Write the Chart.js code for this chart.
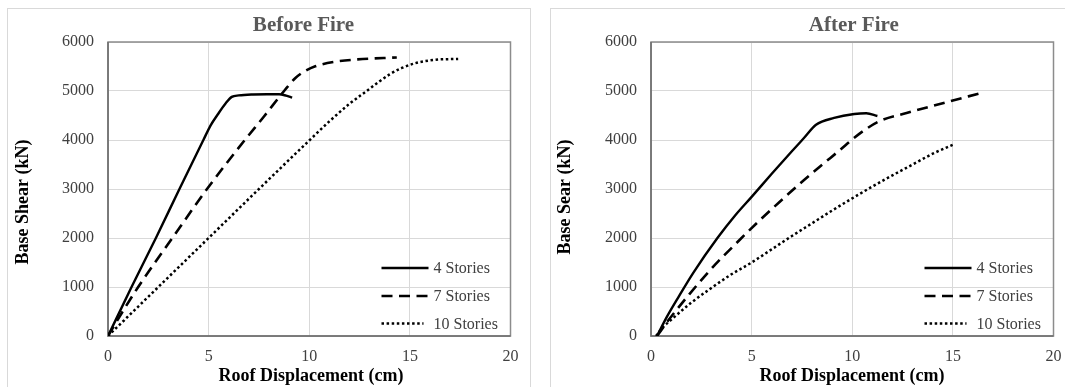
<!DOCTYPE html>
<html>
<head>
<meta charset="utf-8">
<script src="https://cdn.jsdelivr.net/npm/chart.js@4.4.1/dist/chart.umd.min.js"></script>
<style>
  html, body { margin: 0; padding: 0; background: #fff; width: 1065px; height: 387px; overflow: hidden; }
  .box { position: absolute; box-sizing: border-box; border: 1px solid #d9d9d9; background: #fff; }
  #boxL { left: 7px; top: 8px; width: 524px; height: 400px; }
  #boxR { left: 550px; top: 8px; width: 530px; height: 400px; }
  canvas { display: block; }
</style>
</head>
<body>
<div class="box" id="boxL"><canvas id="cL" width="522" height="398" style="width:522px;height:398px"></canvas></div>
<div class="box" id="boxR"><canvas id="cR" width="514" height="398" style="width:514px;height:398px"></canvas></div>
<script>
// ---------- tick labels ----------
const xTicks = [0, 5, 10, 15, 20];
const yTicks = [0, 1000, 2000, 3000, 4000, 5000, 6000];

// ---------- series names ----------
const seriesNames = ['4 Stories', '7 Stories', '10 Stories'];

// ---------- Before Fire ----------
const before4X = [0, 1.17, 2.38, 3.55, 4.74, 5.1, 5.45, 5.85, 6.15, 6.5, 7.2, 7.9, 8.5, 8.85, 9.15];
const before4Y = [0, 1000, 2000, 3000, 4000, 4300, 4520, 4750, 4880, 4910, 4930, 4935, 4935, 4905, 4865];
const before7X = [0, 0.7, 1.5, 3.2, 4.92, 6.8, 7.75, 8.75, 9.3, 9.8, 10.3, 11.3, 12.4, 14.35];
const before7Y = [0, 480, 1000, 2000, 3000, 4000, 4480, 5000, 5260, 5410, 5505, 5598, 5645, 5685];
const before10X = [0, 2.5, 5, 7.5, 10, 11, 12, 12.85, 13.5, 14, 14.6, 15.25, 16.2, 17.4];
const before10Y = [0, 1000, 2000, 3000, 3990, 4380, 4740, 5000, 5200, 5340, 5470, 5565, 5635, 5655];

// ---------- After Fire ----------
const after4X = [0.3, 0.8, 1.4, 2.1, 3.3, 4.2, 5.0, 6.0, 7.0, 7.6, 8.2, 9.1, 10.1, 10.7, 11.25];
const after4Y = [0, 400, 820, 1290, 2000, 2470, 2840, 3310, 3770, 4040, 4310, 4450, 4530, 4545, 4490];
const after7X = [0.3, 0.9, 1.9, 3.06, 4.4, 5.4, 6.4, 7.4, 8.4, 9.4, 10.0, 10.5, 11.3, 12.7, 14.4, 16.45];
const after7Y = [0, 340, 850, 1400, 1960, 2360, 2740, 3110, 3460, 3800, 4010, 4170, 4375, 4550, 4740, 4965];
const after10X = [0.25, 0.6, 1, 2, 3, 4, 5, 6, 7, 8, 9, 10, 11, 12, 13, 14, 15.1];
const after10Y = [0, 180, 330, 680, 980, 1260, 1500, 1770, 2040, 2300, 2560, 2810, 3050, 3280, 3500, 3720, 3920];

// ---------- styling ----------
const SERIF = "'Liberation Serif', 'Times New Roman', serif";
const lineStyles = [
  { dash: [], width: 2.4 },
  { dash: [11, 6.5], width: 2.6 },
  { dash: [2.5, 2.6], width: 2.5 }
];

function pts(xs, ys) { return xs.map((x, i) => ({ x: x, y: ys[i] })); }

function decorPlugin(cfg) {
  return {
    id: 'decor',
    beforeDatasetsDraw(chart) {
      const { ctx, chartArea: a } = chart;
      ctx.save();
      ctx.strokeStyle = '#8c8c8c';
      ctx.lineWidth = 1.5;
      ctx.strokeRect(a.left, a.top, a.right - a.left, a.bottom - a.top);
      ctx.strokeStyle = '#6e6e6e';
      ctx.beginPath();
      ctx.moveTo(a.left, a.top);
      ctx.lineTo(a.left, a.bottom);
      ctx.lineTo(a.right, a.bottom);
      ctx.stroke();
      ctx.restore();
    },
    afterDraw(chart) {
      const ctx = chart.ctx;
      ctx.save();
      // chart title
      ctx.fillStyle = '#595959';
      ctx.font = 'bold 21px ' + SERIF;
      ctx.textAlign = 'center';
      ctx.textBaseline = 'alphabetic';
      ctx.fillText(cfg.title, cfg.titleX, cfg.titleY);
      // x axis title
      ctx.fillStyle = '#000';
      ctx.font = 'bold 18px ' + SERIF;
      ctx.fillText(cfg.xTitle, cfg.xTitleX, cfg.xTitleY);
      // y axis title (rotated)
      ctx.save();
      ctx.translate(cfg.yTitleX, cfg.yTitleTop);
      ctx.rotate(-Math.PI / 2);
      ctx.textAlign = 'right';
      ctx.fillText(cfg.yTitle, 0, 0);
      ctx.restore();
      // legend
      ctx.font = '16px ' + SERIF;
      ctx.fillStyle = '#404040';
      ctx.textAlign = 'left';
      ctx.textBaseline = 'middle';
      seriesNames.forEach((name, i) => {
        const y = cfg.legRows[i];
        const st = lineStyles[i];
        ctx.save();
        ctx.strokeStyle = '#000';
        ctx.lineWidth = st.width;
        ctx.setLineDash(st.dash);
        ctx.beginPath();
        ctx.moveTo(cfg.legX0, y);
        ctx.lineTo(i === 2 ? cfg.legX1 - 5 : cfg.legX1, y);
        ctx.stroke();
        ctx.restore();
        ctx.fillText(name, cfg.legTextX, y + 1);
      });
      ctx.restore();
    }
  };
}

function makeChart(id, seriesX, seriesY, cfg) {
  const datasets = seriesNames.map((name, i) => ({
    label: name,
    data: pts(seriesX[i], seriesY[i]),
    borderColor: '#000',
    borderWidth: lineStyles[i].width,
    borderDash: lineStyles[i].dash,
    borderCapStyle: 'butt',
    pointRadius: 0,
    fill: false,
    cubicInterpolationMode: 'monotone'
  }));
  const tickFont = { family: SERIF, size: 16 };
  return new Chart(document.getElementById(id), {
    type: 'line',
    data: { datasets: datasets },
    options: {
      responsive: false,
      animation: false,
      events: [],
      layout: { padding: { left: 0, right: cfg.padRight, top: 33, bottom: 41 } },
      plugins: { legend: { display: false }, title: { display: false }, tooltip: { enabled: false } },
      scales: {
        x: {
          type: 'linear', min: 0, max: 20,
          afterBuildTicks: s => { s.ticks = xTicks.map(v => ({ value: v })); },
          afterFit: s => { s.height = 30; s.paddingLeft = 0; s.paddingRight = 0; },
          grid: { color: '#d9d9d9', lineWidth: 1, drawTicks: false },
          border: { display: false },
          ticks: { padding: 11, font: tickFont, color: '#404040', maxRotation: 0, autoSkip: false,
                   callback: v => String(v) }
        },
        y: {
          type: 'linear', min: 0, max: 6000,
          afterBuildTicks: s => { s.ticks = yTicks.map(v => ({ value: v })); },
          afterFit: s => { s.width = 100; s.paddingTop = 0; s.paddingBottom = 0; },
          grid: { color: '#d9d9d9', lineWidth: 1, drawTicks: false },
          border: { display: false },
          ticks: { padding: 14, font: tickFont, color: '#404040', autoSkip: false,
                   callback: v => String(v) }
        }
      }
    },
    plugins: [decorPlugin(cfg)]
  });
}

makeChart('cL', [before4X, before7X, before10X], [before4Y, before7Y, before10Y], {
  padRight: 19.5,
  title: 'Before Fire', titleX: 295.5, titleY: 21.7,
  xTitle: 'Roof Displacement (cm)', xTitleX: 303, xTitleY: 372,
  yTitle: 'Base Shear (kN)', yTitleX: 20, yTitleTop: 130.5,
  legRows: [259, 287, 314.5], legX0: 373.5, legX1: 420.5, legTextX: 425.5
});

makeChart('cR', [after4X, after7X, after10X], [after4Y, after7Y, after10Y], {
  padRight: 11.5,
  title: 'After Fire', titleX: 302.8, titleY: 21.7,
  xTitle: 'Roof Displacement (cm)', xTitleX: 301, xTitleY: 372,
  yTitle: 'Base Sear (kN)', yTitleX: 19, yTitleTop: 130.5,
  legRows: [259, 287, 314.5], legX0: 373.5, legX1: 420.5, legTextX: 425.5
});
</script>
</body>
</html>
